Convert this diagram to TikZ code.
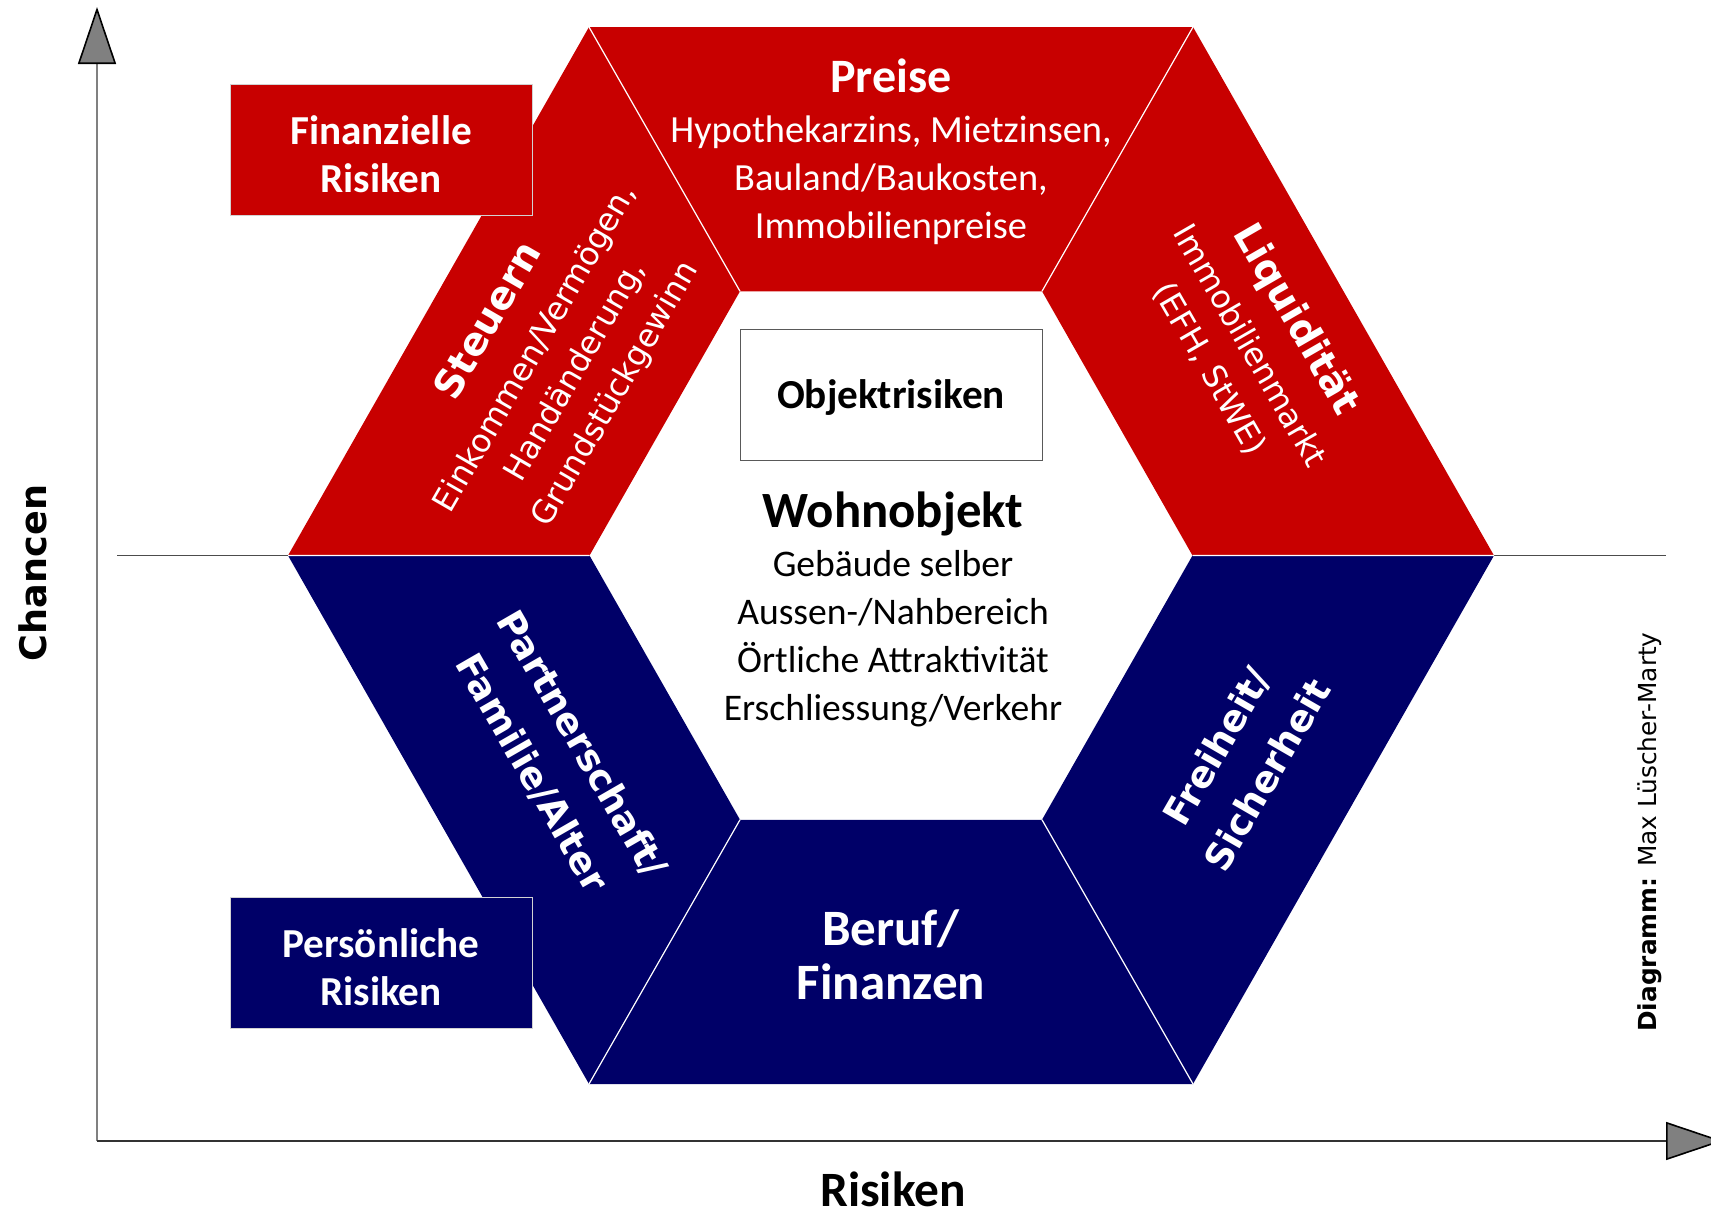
\documentclass[tikz,border=0pt]{standalone}
\usepackage{fontspec}
\setmainfont{Carlito}
\newfontfamily\verdfont{DejaVu Sans}
\usepackage{tikz}
\usetikzlibrary{arrows.meta,calc,positioning}
\definecolor{riskred}{RGB}{200,0,0}
\definecolor{risknavy}{RGB}{0,0,104}

\begin{document}
\begin{tikzpicture}[x=0.5pt,y=-0.5pt,
  riskbox/.style={draw=gray!35,line width=0.5pt,minimum width=151pt,minimum height=65.5pt,
    inner sep=0pt,align=center,text=white,font=\fontsize{20.6}{24}\selectfont\bfseries},
  seam/.style={white,line width=0.6pt},
  slanted/.style={align=center,text=white,font=\verdfont\fontsize{16}{23}\selectfont},
  slantbold/.style={align=center,text=white,font=\verdfont\bfseries\fontsize{18.6}{29}\selectfont},
  axisarrow/.style={-{Triangle[length=28.5pt,width=19pt,fill=gray,color=black]}}]
\useasboundingbox (0,0) rectangle (1711,1210);
% hexagon corners
\coordinate (C) at (891,555.5);
\coordinate (o1) at (589,27);
\coordinate (o2) at (1193,27);
\coordinate (o3) at (1494,555.5);
\coordinate (o4) at (1193,1084);
\coordinate (o5) at (589,1084);
\coordinate (o6) at (288,555.5);
\foreach \k in {1,...,6} \coordinate (i\k) at ($(C)!.5!(o\k)$);
\foreach \k/\l in {1/2,2/3,3/4,4/5,5/6,6/1} \coordinate (m\k) at ($(o\k)!.5!(o\l)$);
% axes
\coordinate (origin) at (97,1141);
\coordinate (ytip) at (97,7);
\coordinate (xtip) at (1723,1141);
\coordinate (midL) at (117,555.5);
\coordinate (midR) at (1666,555.5);
\draw[axisarrow,gray,line width=0.8pt](origin)--(ytip);
\draw[axisarrow,black!80,line width=0.8pt](origin)--(xtip);
\draw[gray!60!black,line width=0.6pt](midL)--(o6)
(o3)--(midR);
% segments
\fill[riskred](o1)--(o2)--(i2)--(i1)--cycle;
\fill[riskred](o2)--(o3)--(i3)--(i2)--cycle;
\fill[riskred](o6)--(o1)--(i1)--(i6)--cycle;
\fill[risknavy](o3)--(o4)--(i4)--(i3)--cycle;
\fill[risknavy](o4)--(o5)--(i5)--(i4)--cycle;
\fill[risknavy](o5)--(o6)--(i6)--(i5)--cycle;
\draw[seam](o1)--(i1) (o2)--(i2) (o3)--(i3)
(o4)--(i4) (o5)--(i5) (o6)--(i6);
% labels
\node[align=center,text=white,font=\fontsize{19.2}{24}\selectfont](preise) at ($(C)!.75!(m1)+(0,-7.6)$)
{{\bfseries\fontsize{24}{24}\selectfont Preise}\\[0.8pt]Hypothekarzins, Mietzinsen,\\Bauland/Baukosten,\\Immobilienpreise};
\node[slanted,rotate=-60](liquid) at ($(C)!.75!(m2)+(24,-14)$)
{{\bfseries\fontsize{19.5}{23}\selectfont Liquidität}\\[3pt]Immobilienmarkt\\(EFH, StWE)};
\node[slantbold,rotate=60](freiheit) at ($(C)!.75!(m3)+(11,7)$) {Freiheit/\\Sicherheit};
\node[align=center,text=white,font=\fontsize{25.5}{27}\selectfont\bfseries](beruf) at ($(C)!.75!(m4)+(0,3)$) {Beruf/\\Finanzen};
\node[slantbold,rotate=-60](partner) at ($(C)!.75!(m5)+(5,5)$) {Partnerschaft/\\Familie/Alter};
\node[slanted,rotate=60](steuern) at ($(C)!.75!(m6)$)
{{\bfseries\fontsize{19.5}{23}\selectfont Steuern}\\[3pt]Einkommen/Vermögen,\\Handänderung,\\Grundstückgewinn};
% boxes
\node[riskbox,fill=riskred](finrisk) at (381,149.5) {\rule{0pt}{19pt}Finanzielle\\Risiken};
\node[riskbox,fill=risknavy](persrisk) at (381,962.5) {\rule{0pt}{19pt}Persönliche\\Risiken};
\node[riskbox,fill=white,draw=gray!70!black,text=black](objrisk) at (891,394.75) {\rule{0pt}{17pt}Objektrisiken};
\node[align=center,font=\fontsize{18.8}{24}\selectfont](wohn) at (893,609.3)
{{\bfseries\fontsize{25.4}{24}\selectfont Wohnobjekt}\\[0.3pt]Gebäude selber\\Aussen-/Nahbereich\\Örtliche Attraktivität\\Erschliessung/Verkehr};
% axis texts
\node[rotate=90,font=\verdfont\bfseries\fontsize{18.3}{20}\selectfont](chancen) at (33,573) {Chancen};
\node[inner sep=0pt,font=\bfseries\fontsize{24.7}{26}\selectfont](risiken) at (893,1189) {Risiken};
\node[rotate=90,font=\verdfont\fontsize{12.4}{14}\selectfont](credit) at (1650,832) {\textbf{Diagramm:} Max Lüscher-Marty};
\end{tikzpicture}
\end{document}
